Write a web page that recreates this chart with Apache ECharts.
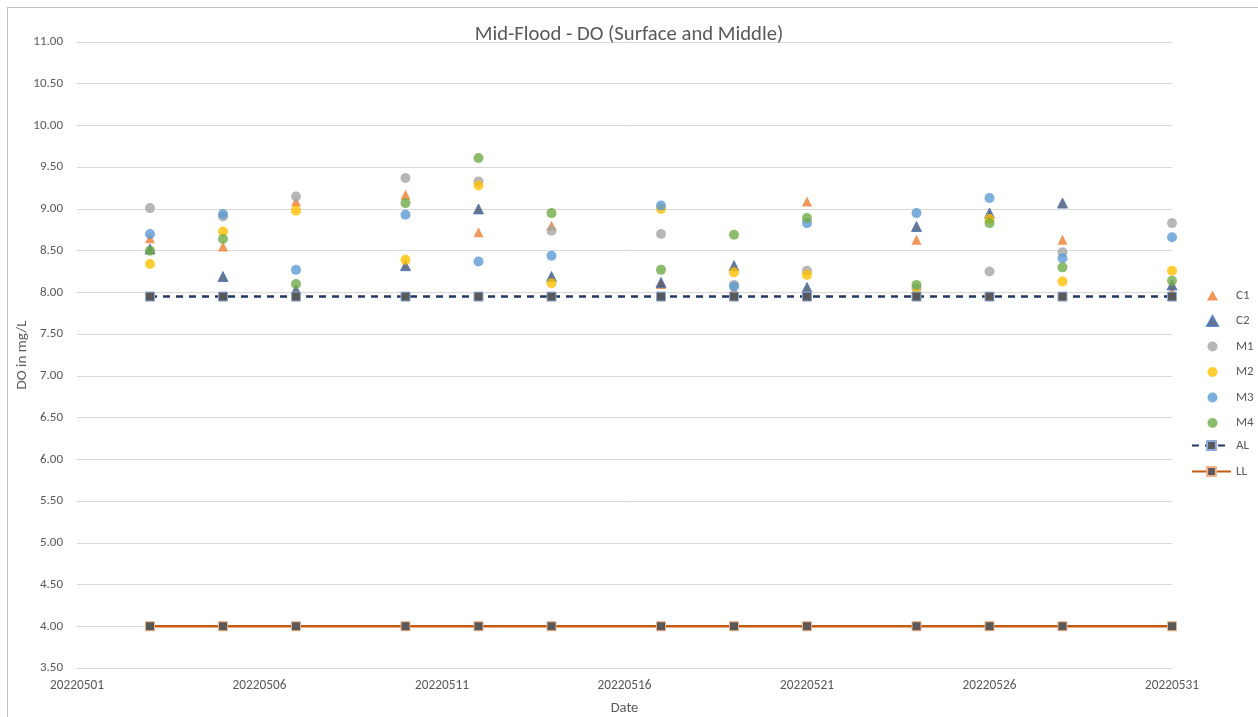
<!DOCTYPE html>
<html>
<head>
<meta charset="utf-8">
<script src="https://cdn.jsdelivr.net/npm/echarts@6/dist/echarts.min.js"></script>
<style>
  html, body { margin: 0; padding: 0; background: #fff; overflow: hidden; }
  #chart { width: 1258px; height: 717px; position: absolute; left: 0; top: 0; }
  #frame { position: absolute; left: 7px; top: 7px; width: 1300px; height: 800px; border: 1px solid #bfbfbf; pointer-events: none; }
</style>
</head>
<body>
<div id="chart"></div>
<div id="frame"></div>
<script>
const dates = ['20220503','20220505','20220507','20220510','20220512','20220514','20220517','20220519','20220521','20220524','20220526','20220528','20220531'];
const C1 = [8.65, 8.55, 9.09, 9.17, 8.72, 8.80, 8.10, 8.03, 9.09, 8.63, 8.90, 8.63, 8.01];
const C2 = [8.52, 8.19, 8.03, 8.32, 9.00, 8.19, 8.12, 8.32, 8.06, 8.79, 8.95, 9.07, 8.09];
const M1 = [9.01, 8.91, 9.15, 9.37, 9.33, 8.74, 8.70, 8.09, 8.26, 8.05, 8.25, 8.48, 8.83];
const M2 = [8.34, 8.73, 8.98, 8.39, 9.28, 8.11, 9.00, 8.24, 8.21, 7.99, 8.88, 8.13, 8.26];
const M3 = [8.70, 8.94, 8.27, 8.93, 8.37, 8.44, 9.04, 8.07, 8.83, 8.95, 9.13, 8.41, 8.66];
const M4 = [8.50, 8.64, 8.10, 9.07, 9.61, 8.95, 8.27, 8.69, 8.89, 8.09, 8.83, 8.30, 8.14];
const AL = [7.95, 7.95, 7.95, 7.95, 7.95, 7.95, 7.95, 7.95, 7.95, 7.95, 7.95, 7.95, 7.95];
const LL = [4.00, 4.00, 4.00, 4.00, 4.00, 4.00, 4.00, 4.00, 4.00, 4.00, 4.00, 4.00, 4.00];
const xMin = '20220501', xMax = '20220531';
const xBase = 20220500;

const toDay = d => Number(d) - xBase;
const pairs = vals => dates.map((d, i) => [toDay(d), vals[i]]);

const font = 'Calibri, Carlito, "Open Sans", "Noto Sans", sans-serif';
const txt = '#595959';

function scatter(name, vals, symbol, color, border) {
  return {
    name, type: 'scatter', data: pairs(vals), symbol, symbolSize: 10,
    itemStyle: { color, borderColor: border || color, borderWidth: border ? 1 : 0 }
  };
}

const chart = echarts.init(document.getElementById('chart'));
chart.setOption({
  animation: false,
  textStyle: { fontFamily: font },
  title: {
    text: 'Mid-Flood - DO (Surface and Middle)',
    left: 'center', top: 19,
    textStyle: { fontSize: 20.7, fontWeight: 'normal', color: txt, fontFamily: font }
  },
  grid: { left: 77, right: 86, top: 42, bottom: 49, outerBoundsMode: 'none', containLabel: false },
  legend: [
    {
      orient: 'vertical', left: 1206, top: 289, padding: 0, align: 'left',
      itemWidth: 11, itemHeight: 10, itemGap: 12.5, itemTextGap: 5,
      textStyle: { fontSize: 13, color: txt, fontFamily: font, padding: [0, 0, 0, 13] },
      data: ['C1', 'C2', 'M1', 'M2', 'M3', 'M4']
    },
    {
      orient: 'vertical', left: 1191, top: 439, padding: 0, align: 'left',
      itemWidth: 39, itemHeight: 11, itemGap: 13, itemTextGap: 2,
      textStyle: { fontSize: 13, color: txt, fontFamily: font },
      data: ['AL', 'LL']
    }
  ],
  xAxis: {
    type: 'value', min: toDay(xMin), max: toDay(xMax), interval: 5,
    name: 'Date', nameLocation: 'middle', nameGap: 33,
    nameTextStyle: { fontSize: 14.5, color: txt, fontFamily: font },
    axisLine: { show: true, lineStyle: { color: '#d9d9d9' } },
    axisTick: { show: false },
    splitLine: { show: false },
    axisLabel: { color: txt, fontSize: 13.3, margin: 11, formatter: v => String(xBase + v) }
  },
  yAxis: {
    type: 'value', min: 3.5, max: 11, interval: 0.5,
    name: 'DO in mg/L', nameLocation: 'middle', nameGap: 55, nameRotate: 90, nameMoveOverlap: false,
    nameTextStyle: { fontSize: 15, color: txt, fontFamily: font, verticalAlign: 'middle' },
    axisLine: { show: false }, axisTick: { show: false },
    splitLine: { lineStyle: { color: '#d9d9d9', width: 1 } },
    axisLabel: { color: txt, fontSize: 13, margin: 14, formatter: v => v.toFixed(2) }
  },
  series: [
    scatter('C1', C1, 'triangle', '#ED7D31'),
    scatter('C2', C2, 'triangle', '#44546A', '#4472C4'),
    scatter('M1', M1, 'circle', '#A5A5A5'),
    scatter('M2', M2, 'circle', '#FFC000'),
    scatter('M3', M3, 'circle', '#5B9BD5'),
    scatter('M4', M4, 'circle', '#70AD47'),
    {
      name: 'AL', type: 'line', data: pairs(AL), symbol: 'rect', symbolSize: 9, showSymbol: true,
      lineStyle: { color: '#203864', width: 2.5, type: [7, 6] },
      itemStyle: { color: '#595959', borderColor: '#8FAADC', borderWidth: 1 }
    },
    {
      name: 'LL', type: 'line', data: pairs(LL), symbol: 'rect', symbolSize: 9, showSymbol: true,
      lineStyle: { color: '#C55A11', width: 2.5 },
      itemStyle: { color: '#595959', borderColor: '#F4B183', borderWidth: 1 }
    }
  ]
});
</script>
</body>
</html>
